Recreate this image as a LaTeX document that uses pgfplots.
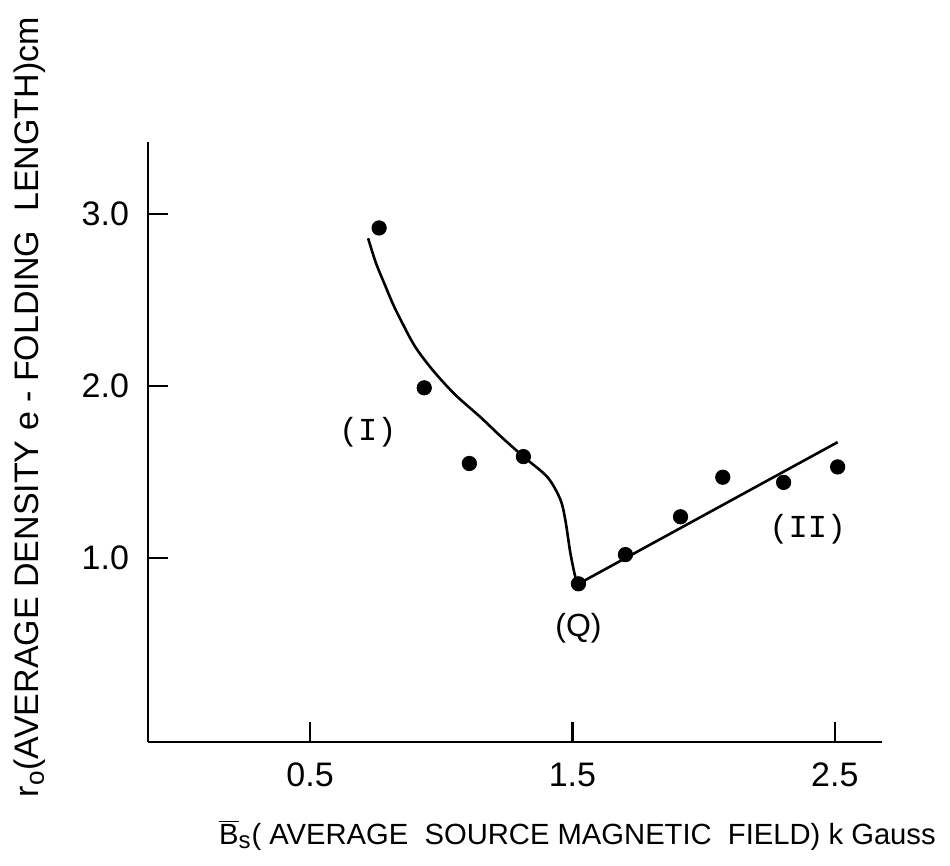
\documentclass[border=0pt]{standalone}
\usepackage{fontspec}
\setmainfont{Liberation Sans}
\setmonofont{Liberation Mono}
\usepackage{pgfplots}
\pgfplotsset{compat=1.18}
\begin{document}
\fontsize{16}{19}\selectfont
\begin{tikzpicture}
\useasboundingbox (-74pt,-62pt) rectangle (401pt,371pt);
\begin{axis}[
  at={(0,0)}, anchor=south west,
  width=367pt, height=300pt, scale only axis,
  xmin=-0.118, xmax=2.68, ymin=-0.07, ymax=3.42,
  axis lines*=left,
  axis line style={line width=1.4pt},
  xtick={0.5,1.5,2.5}, xticklabels={0.5,1.5,2.5},
  ytick={1,2,3}, yticklabels={1.0,2.0,3.0},
  tick align=inside, major tick length=10pt,
  tick style={line width=1.1pt, black},
  /pgf/number format/assume math mode=true,
  ticklabel style={font=\fontsize{17}{20}\selectfont},
  xticklabel style={yshift=-5pt},
  yticklabel style={xshift=-4pt},
  xlabel={$\overline{\hbox{B}}_{\hbox{\fontsize{12}{14}\selectfont s}}$( AVERAGE\ \ SOURCE MAGNETIC\ \ FIELD)\ k Gauss},
  ylabel={r$_{\hbox{\fontsize{13}{15}\selectfont o}}$(AVERAGE\ DENSITY\ e - FOLDING\ \ LENGTH)cm},
  xlabel style={at={(axis description cs:0.585,-0.155)}, anchor=center, font=\fontsize{14.6}{18}\selectfont},
  ylabel style={at={(axis description cs:-0.161,0.558)}, anchor=center, rotate=0, font=\fontsize{17}{20}\selectfont},
  clip=false,
]
\addplot[smooth, line width=1.3pt, black] coordinates {
(0.721,2.86) (0.75,2.72) (0.782,2.60) (0.815,2.48) (0.847,2.38)
(0.90,2.23) (0.969,2.09) (1.053,1.95) (1.149,1.82) (1.225,1.71)
(1.313,1.59) (1.405,1.47) (1.454,1.34)
(1.473,1.22) (1.492,1.03) (1.511,0.89) (1.523,0.85)
};
\addplot[line width=1.3pt, black] coordinates {(1.523,0.85) (2.511,1.674)};
\addplot[only marks, mark=*, mark size=3.6pt, black] coordinates {
(0.763,2.92) (0.935,1.99) (1.107,1.55) (1.313,1.59) (1.523,0.85)
(1.702,1.02) (1.912,1.24) (2.073,1.47) (2.305,1.44) (2.511,1.53)
};
\node at (axis cs:0.72,1.73) {\ttfamily (I)};
\node at (axis cs:1.523,0.59) {(Q)};
\node at (axis cs:2.397,1.17) {\ttfamily (II)};
\end{axis}
\end{tikzpicture}
\end{document}
